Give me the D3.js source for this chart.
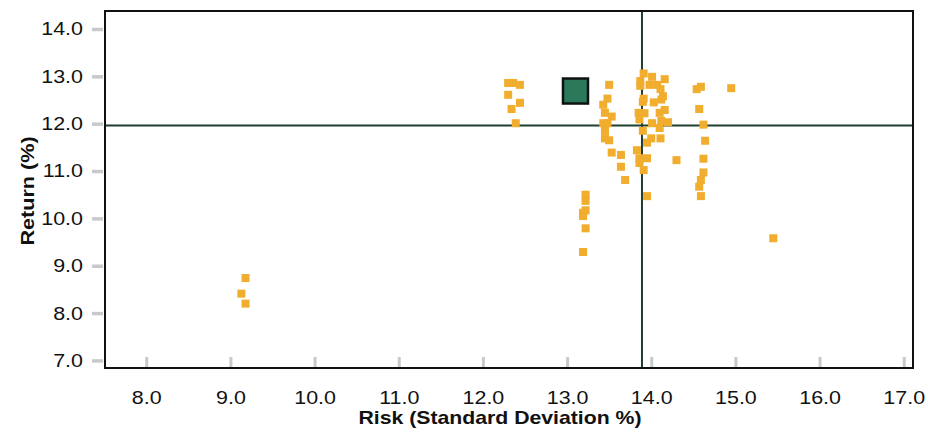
<!DOCTYPE html>
<html>
<head>
<meta charset="utf-8">
<script src="https://cdn.jsdelivr.net/npm/d3@7"></script>
<style>
  html, body { margin: 0; padding: 0; background: #fff; }
  svg { display: block; font-family: "Liberation Sans", Arial, Helvetica, sans-serif; }
</style>
</head>
<body>
<svg id="chart" width="928" height="436"></svg>
<script>
// ---- data ----
const xTicks = [8, 9, 10, 11, 12, 13, 14, 15, 16, 17];
const yTicks = [7, 8, 9, 10, 11, 12, 13, 14];
const xTitle = "Risk (Standard Deviation %)";
const yTitle = "Return (%)";

// peer funds: risk (std dev %) and return (%)
const peerRisk = [
  9.18, 9.13, 9.18,
  12.30, 12.36, 12.44, 12.30, 12.44, 12.34, 12.39,
  13.22, 13.22, 13.22, 13.19, 13.19, 13.22, 13.19,
  13.50, 13.48, 13.43, 13.45, 13.53, 13.43, 13.48, 13.45, 13.45, 13.50, 13.53, 13.64, 13.64, 13.69,
  13.91, 13.87, 13.87, 14.01, 14.16, 13.98, 14.07, 14.11, 14.14, 14.12, 13.91, 13.90, 14.03,
  13.85, 13.92, 14.10, 14.16, 14.01, 14.20, 14.12, 13.86, 14.10, 13.90, 14.00, 14.11, 13.95,
  13.83, 13.86, 13.95, 14.30, 13.86, 13.91, 13.95,
  14.54, 14.59, 14.57, 14.62, 14.64, 14.62, 14.62, 14.59, 14.57, 14.59,
  14.95, 15.45
];
const peerReturn = [
  8.74, 8.41, 8.20,
  12.86, 12.86, 12.82, 12.61, 12.44, 12.31, 12.01,
  10.50, 10.37, 10.17, 10.12, 10.05, 9.79, 9.29,
  12.82, 12.53, 12.40, 12.23, 12.15, 12.01, 12.01, 11.85, 11.69, 11.65, 11.39, 11.34, 11.09, 10.81,
  13.06, 12.90, 12.80, 12.99, 12.94, 12.82, 12.82, 12.73, 12.58, 12.51, 12.53, 12.46, 12.45,
  12.23, 12.22, 12.23, 12.29, 12.01, 12.03, 12.06, 12.09, 11.91, 11.85, 11.69, 11.69, 11.60,
  11.44, 11.27, 11.27, 11.23, 11.17, 11.02, 10.47,
  12.73, 12.78, 12.31, 11.98, 11.64, 11.26, 10.97, 10.81, 10.67, 10.47,
  12.75, 9.58
];
// highlighted fund
const fundRisk = [13.10];
const fundReturn = [12.69];
// reference lines (peer averages)
const refRisk = [13.89];
const refReturn = [11.96];

// ---- layout ----
const svg = d3.select("#chart");
const pLeft = 105, pRight = 913, pTop = 11, pBottom = 368;
const x = d3.scaleLinear().domain([7.51, 17.11]).range([pLeft, pRight]);
const y = d3.scaleLinear().domain([6.84, 14.38]).range([pBottom, pTop]);
const stretch = 1.16;

// reference lines
svg.append("g").selectAll("line").data(refRisk).join("line")
  .attr("x1", d => x(d)).attr("x2", d => x(d))
  .attr("y1", pTop).attr("y2", pBottom)
  .attr("stroke", "#1d3f30").attr("stroke-width", 2);
svg.append("g").selectAll("line").data(refReturn).join("line")
  .attr("x1", pLeft).attr("x2", pRight)
  .attr("y1", d => y(d)).attr("y2", d => y(d))
  .attr("stroke", "#1d3f30").attr("stroke-width", 2);

// peer points
const peers = peerRisk.map((r, i) => ({ r, v: peerReturn[i] }));
const ps = 8;
svg.append("g").selectAll("rect").data(peers).join("rect")
  .attr("x", d => x(d.r) - ps / 2)
  .attr("y", d => y(d.v) - ps / 2)
  .attr("width", ps).attr("height", ps)
  .attr("fill", "#f0ad2e");

// fund point
const fs = 25;
svg.append("g").selectAll("rect").data(fundRisk.map((r, i) => ({ r, v: fundReturn[i] }))).join("rect")
  .attr("x", d => x(d.r) - fs / 2)
  .attr("y", d => y(d.v) - fs / 2)
  .attr("width", fs).attr("height", fs)
  .attr("fill", "#2a795a")
  .attr("stroke", "#111").attr("stroke-width", 2.5);

// frame
svg.append("rect")
  .attr("x", pLeft).attr("y", pTop)
  .attr("width", pRight - pLeft).attr("height", pBottom - pTop)
  .attr("fill", "none").attr("stroke", "#111").attr("stroke-width", 2);

// x axis (ticks inside, pointing up)
const xAxis = svg.append("g")
  .attr("transform", `translate(0,${pBottom - 1})`)
  .call(d3.axisBottom(x).tickValues(xTicks).tickFormat(d3.format(".1f"))
    .tickSizeInner(-10).tickSizeOuter(0).tickPadding(24));
xAxis.select(".domain").remove();
xAxis.selectAll(".tick line").attr("stroke", "#c7c9cc").attr("stroke-width", 3);
xAxis.selectAll(".tick text").attr("font-size", 18.5).attr("fill", "#111")
  .attr("font-family", "'Liberation Sans', Arial, sans-serif")
  .attr("transform", `scale(${stretch},1)`);

// y axis (ticks outside)
const yAxis = svg.append("g")
  .attr("transform", `translate(${pLeft - 2},0)`)
  .call(d3.axisLeft(y).tickValues(yTicks).tickFormat(d3.format(".1f"))
    .tickSizeInner(11).tickSizeOuter(0).tickPadding(9));
yAxis.select(".domain").remove();
yAxis.selectAll(".tick line").attr("stroke", "#c7c9cc").attr("stroke-width", 3.5);
yAxis.selectAll(".tick text").attr("font-size", 18.5).attr("fill", "#111")
  .attr("font-family", "'Liberation Sans', Arial, sans-serif")
  .attr("x", 0)
  .attr("transform", `translate(-20,0) scale(${stretch},1)`);

// axis titles
svg.append("text")
  .attr("transform", `translate(500,424) scale(1.18,1)`)
  .attr("text-anchor", "middle")
  .attr("font-size", 18).attr("font-weight", "bold").attr("fill", "#111")
  .text(xTitle);
svg.append("text")
  .attr("transform", `translate(34,191) rotate(-90) scale(1.2,1)`)
  .attr("text-anchor", "middle")
  .attr("font-size", 18).attr("font-weight", "bold").attr("fill", "#111")
  .text(yTitle);
</script>
</body>
</html>
